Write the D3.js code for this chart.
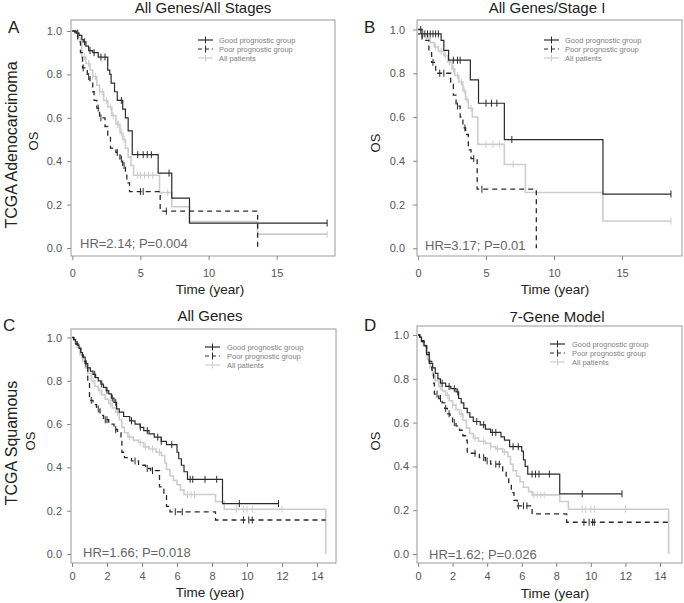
<!DOCTYPE html>
<html lang="en">
  <head>
    <meta charset="UTF-8" />
    <title>KM curves</title>
    <style>
      body { margin: 0; background: #fff; }
      svg text { font-family: Arial, "Liberation Sans", sans-serif; }
    </style>
  </head>
  <body>
    <div id="chart"></div>
    <script src="https://d3js.org/d3.v7.min.js"></script>
    <script>
      // ---- data: [time (year), survival] at each drop ----
      var goodA = [[0.3,0.99],[0.5,0.98],[0.7,0.96],[0.8,0.95],[1.0,0.93],[1.2,0.91],[1.5,0.9],[1.9,0.88],[2.6,0.82],[2.75,0.8],[2.85,0.76],[3.1,0.72],[3.3,0.68],[3.7,0.64],[3.9,0.6],[4.1,0.54],[4.4,0.43],[6.3,0.345],[7.3,0.23],[8.6,0.115],[18.7,0.115]];
      var poorA = [[0.2,0.98],[0.4,0.95],[0.6,0.9],[0.75,0.83],[1.1,0.79],[1.3,0.76],[1.5,0.72],[1.6,0.68],[1.8,0.645],[2.0,0.6],[2.4,0.56],[2.6,0.52],[2.8,0.46],[3.2,0.44],[3.5,0.41],[3.7,0.38],[3.9,0.34],[4.0,0.3],[4.2,0.26],[6.45,0.17],[13.6,0]];
      var allA = [[0.2,0.99],[0.4,0.97],[0.6,0.95],[0.7,0.88],[1.0,0.85],[1.3,0.82],[1.5,0.79],[1.8,0.75],[2.0,0.72],[2.3,0.68],[2.6,0.65],[2.9,0.61],[3.2,0.57],[3.5,0.53],[3.7,0.5],[3.9,0.46],[4.1,0.42],[4.3,0.38],[4.5,0.335],[6.4,0.255],[7.3,0.19],[8.6,0.122],[13.6,0.064],[18.7,0.064]];
      var censGoodA = [0.4,0.9,1.3,1.6,2.1,2.4,3.6,4.8,5.2,5.5,5.8,7.1,18.7];
      var censPoorA = [0.8,1.2,1.9,2.1,3.3,3.6,3.8,5.0,5.2,6.9];
      var censAllA = [0.9,1.2,1.5,1.7,2.0,2.2,2.5,2.8,3.0,3.3,3.4,3.6,3.8,4.8,5.0,5.3,5.6,5.9,7.0,18.7];

      var goodB = [[1.7,0.95],[1.9,0.905],[2.25,0.86],[3.85,0.77],[4.45,0.663],[6.35,0.497],[13.6,0.248],[18.6,0.248]];
      var poorB = [[0.3,0.95],[0.8,0.9],[1.0,0.85],[1.3,0.8],[2.4,0.75],[2.6,0.7],[2.8,0.65],[3.1,0.6],[3.3,0.55],[3.5,0.52],[3.7,0.45],[3.9,0.41],[4.35,0.27],[8.7,0]];
      var allB = [[0.3,0.98],[0.6,0.96],[0.9,0.94],[1.2,0.92],[1.5,0.9],[1.9,0.88],[2.2,0.85],[2.5,0.82],[2.7,0.79],[3.0,0.76],[3.3,0.72],[3.5,0.68],[3.7,0.64],[4.0,0.6],[4.4,0.475],[6.35,0.383],[7.9,0.255],[13.6,0.125],[18.6,0.125]];
      var goodBStart = 0.98;
      var censGoodB = [0.3,0.5,0.7,0.9,1.1,1.3,1.5,2.6,2.9,3.1,5.0,5.4,5.8,6.9,18.6];
      var censPoorB = [0.2,1.1,1.6,1.9,2.9,3.45,4.1,4.7];
      var censAllB = [0.4,0.8,1.3,1.7,2.0,2.3,2.6,2.9,3.2,3.4,3.6,3.9,5.0,5.5,6.0,7.0,18.6];

      var goodC = [[0.1,0.99],[0.2,0.98],[0.3,0.965],[0.4,0.95],[0.5,0.93],[0.6,0.91],[0.75,0.88],[0.9,0.86],[1.05,0.845],[1.2,0.83],[1.35,0.815],[1.5,0.8],[1.65,0.785],[1.8,0.77],[1.95,0.755],[2.1,0.74],[2.25,0.72],[2.4,0.7],[2.55,0.67],[2.7,0.655],[2.95,0.635],[3.3,0.615],[3.6,0.6],[3.9,0.585],[4.1,0.57],[4.4,0.555],[4.7,0.54],[5.1,0.52],[5.4,0.505],[6.0,0.47],[6.1,0.44],[6.25,0.41],[6.4,0.38],[6.6,0.345],[8.6,0.233],[11.8,0.233]];
      var poorC = [[0.1,0.99],[0.2,0.97],[0.35,0.95],[0.5,0.92],[0.65,0.89],[0.8,0.86],[0.9,0.8],[1.0,0.71],[1.2,0.69],[1.4,0.67],[1.6,0.64],[1.8,0.62],[2.1,0.6],[2.4,0.575],[2.6,0.56],[2.8,0.53],[2.85,0.47],[3.0,0.445],[3.4,0.43],[3.8,0.41],[4.2,0.395],[4.5,0.385],[5.0,0.31],[5.25,0.27],[5.4,0.22],[5.6,0.195],[8.2,0.157],[14.5,0.157]];
      var allC = [[0.1,0.99],[0.2,0.975],[0.3,0.955],[0.45,0.92],[0.6,0.89],[0.75,0.86],[0.9,0.835],[1.1,0.8],[1.3,0.775],[1.5,0.755],[1.7,0.735],[1.9,0.715],[2.1,0.695],[2.3,0.675],[2.5,0.655],[2.7,0.62],[2.85,0.585],[3.0,0.56],[3.2,0.54],[3.5,0.525],[3.8,0.515],[4.1,0.495],[4.4,0.485],[4.8,0.47],[5.1,0.455],[5.3,0.42],[5.4,0.39],[5.6,0.36],[5.8,0.34],[6.0,0.32],[6.2,0.295],[6.4,0.275],[8.2,0.242],[8.7,0.207],[14.5,0]];
      var censGoodC = [0.8,1.3,1.7,2.0,2.3,2.5,3.4,3.9,4.3,4.9,5.1,5.7,6.75,6.9,7.6,8.27,9.56,11.8];
      var censPoorC = [1.1,1.5,1.9,2.0,2.5,3.6,4.3,4.6,5.9,6.3,9.8,10.1,10.3];
      var censAllC = [0.9,1.2,1.6,2.2,2.6,3.3,3.9,4.2,4.6,5.0,6.6,6.8,7.0,9.4,9.8,10.0,10.3,12.0];

      var goodD = [[0.1,0.99],[0.2,0.975],[0.35,0.95],[0.5,0.91],[0.65,0.87],[0.85,0.85],[1.0,0.825],[1.15,0.8],[1.3,0.78],[1.6,0.765],[1.9,0.755],[2.2,0.74],[2.35,0.71],[2.5,0.69],[2.65,0.665],[2.85,0.645],[3.0,0.625],[3.2,0.605],[3.6,0.59],[3.9,0.57],[4.2,0.555],[4.8,0.535],[5.0,0.52],[5.3,0.49],[6.0,0.47],[6.1,0.43],[6.2,0.4],[6.35,0.365],[8.2,0.275],[11.8,0.275]];
      var poorD = [[0.1,0.99],[0.2,0.97],[0.35,0.95],[0.5,0.92],[0.65,0.88],[0.8,0.84],[0.9,0.78],[0.95,0.73],[1.2,0.71],[1.4,0.69],[1.55,0.665],[1.7,0.64],[1.85,0.62],[2.0,0.6],[2.2,0.585],[2.4,0.565],[2.6,0.54],[2.75,0.52],[2.85,0.46],[3.55,0.44],[3.9,0.425],[4.2,0.41],[4.9,0.38],[5.1,0.35],[5.25,0.32],[5.4,0.28],[5.55,0.245],[5.75,0.22],[6.6,0.183],[8.6,0.145],[14.5,0.145]];
      var allD = [[0.1,0.99],[0.2,0.975],[0.3,0.955],[0.45,0.92],[0.55,0.89],[0.7,0.85],[0.85,0.815],[1.0,0.79],[1.2,0.765],[1.4,0.745],[1.6,0.725],[1.8,0.7],[2.0,0.68],[2.2,0.66],[2.4,0.64],[2.6,0.61],[2.8,0.575],[3.0,0.55],[3.2,0.53],[3.5,0.515],[3.9,0.505],[4.2,0.49],[4.5,0.48],[4.9,0.465],[5.2,0.445],[5.35,0.41],[5.5,0.38],[5.7,0.355],[5.9,0.33],[6.1,0.305],[6.4,0.285],[6.6,0.27],[8.2,0.24],[8.7,0.204],[14.5,0]];
      var censGoodD = [1.4,1.8,2.1,2.3,3.4,3.8,4.3,4.5,5.5,5.8,6.6,6.8,7.0,7.6,9.5,11.8];
      var censPoorD = [1.1,1.3,1.6,1.8,2.1,3.3,3.8,4.0,4.5,4.7,5.8,6.1,6.3,9.6,9.9,10.1,10.2];
      var censAllD = [0.9,1.3,1.7,2.0,2.5,3.3,3.8,4.2,4.6,5.0,6.7,6.9,7.1,7.3,9.5,9.7,10.0,10.2,12.0];

      var xTicksLong = [0, 5, 10, 15];
      var xTicksShort = [0, 2, 4, 6, 8, 10, 12, 14];
      var yTicks = [0, 0.2, 0.4, 0.6, 0.8, 1.0];
      var legendLabels = ["Good prognostic group", "Poor prognostic group", "All patients"];
      var titles = ["All Genes/All Stages", "All Genes/Stage I", "All Genes", "7-Gene Model"];
      var letters = ["A", "B", "C", "D"];
      var hrLabels = ["HR=2.14; P=0.004", "HR=3.17; P=0.01", "HR=1.66; P=0.018", "HR=1.62; P=0.026"];
      var rowLabels = ["TCGA Adenocarcinoma", "TCGA Squamous"];

      var svg = d3.select("#chart").append("svg")
        .attr("width", 684).attr("height", 603);

      // layout of each panel (pixel boxes)
      var panels = [
        { box: [71, 20, 335, 256], x0: 72.3, xMax: 15, xEnd: 276.7, y1: 31, y0: 248, ticks: xTicksLong,
          good: goodA, poor: poorA, all: allA, cg: censGoodA, cp: censPoorA, ca: censAllA, goodStart: 1,
          title: [203, 13], letter: [8, 33], os: [38, 141], row: [17, 145, 0], legend: [198, 219, 40],
          hr: [80, 248], ytx: 62, xtY: 277, timeX: 210, timeY: 294 },
        { box: [417, 20, 682, 256], x0: 418, xMax: 15, xEnd: 622, y1: 29.5, y0: 248.3, ticks: xTicksLong,
          good: goodB, poor: poorB, all: allB, cg: censGoodB, cp: censPoorB, ca: censAllB, goodStart: goodBStart,
          title: [547, 13], letter: [364, 33], os: [380, 143], row: null, legend: [544, 565, 40],
          hr: [425, 250], ytx: 405, xtY: 277, timeX: 555, timeY: 294 },
        { box: [71, 329, 336, 563], x0: 72, xMax: 14, xEnd: 317, y1: 337.5, y0: 554, ticks: xTicksShort,
          good: goodC, poor: poorC, all: allC, cg: censGoodC, cp: censPoorC, ca: censAllC, goodStart: 1,
          title: [210, 321], letter: [3, 331], os: [35, 441], row: [17, 443, 1], legend: [205, 227, 347],
          hr: [83, 557], ytx: 62, xtY: 580, timeX: 210, timeY: 597 },
        { box: [417, 326, 682, 563], x0: 418, xMax: 14, xEnd: 660, y1: 335, y0: 554, ticks: xTicksShort,
          good: goodD, poor: poorD, all: allD, cg: censGoodD, cp: censPoorD, ca: censAllD, goodStart: 1,
          title: [557, 322], letter: [364, 331], os: [380, 441], row: null, legend: [550, 572, 344],
          hr: [429, 559], ytx: 409, xtY: 580, timeX: 555, timeY: 598 }
      ];

      var darkCol = "#2a2a2a", lightCol = "#cdcdcd";

      panels.forEach(function (p, i) {
        var x = d3.scaleLinear().domain([0, p.xMax]).range([p.x0, p.xEnd]);
        var y = d3.scaleLinear().domain([0, 1]).range([p.y0, p.y1]);
        var g = svg.append("g");

        // box
        g.append("rect")
          .attr("x", p.box[0]).attr("y", p.box[1])
          .attr("width", p.box[2] - p.box[0]).attr("height", p.box[3] - p.box[1])
          .attr("fill", "none").attr("stroke", "#9a9a9a").attr("stroke-width", 1);

        // axes
        var xa = g.append("g").attr("transform", "translate(0," + p.box[3] + ")")
          .call(d3.axisBottom(x).tickValues(p.ticks).tickSize(4).tickPadding(4).tickFormat(d3.format("d")));
        xa.select(".domain").remove();
        xa.selectAll("line").attr("stroke", "#888");
        xa.selectAll("text").attr("font-size", 11).attr("fill", "#555").attr("dy", null)
          .attr("y", p.xtY - p.box[3]);

        var ya = g.append("g").attr("transform", "translate(" + p.box[0] + ",0)")
          .call(d3.axisLeft(y).tickValues(yTicks).tickSize(4).tickFormat(d3.format(".1f")));
        ya.select(".domain").remove();
        ya.selectAll("line").attr("stroke", "#888");
        ya.selectAll("text").attr("font-size", 11).attr("fill", "#555")
          .attr("x", p.ytx - p.box[0]);

        // curves
        function pts(steps, start) {
          return [[0, start]].concat(steps);
        }
        function survAt(steps, start, t) {
          var s = start;
          steps.forEach(function (d) { if (d[0] <= t) s = d[1]; });
          return s;
        }
        var line = d3.line().curve(d3.curveStepAfter)
          .x(function (d) { return x(d[0]); })
          .y(function (d) { return y(d[1]); });

        var series = [
          { steps: p.all, cens: p.ca, start: 1, col: lightCol, w: 1.6, dash: null },
          { steps: p.poor, cens: p.cp, start: 1, col: darkCol, w: 1.3, dash: "5,4" },
          { steps: p.good, cens: p.cg, start: p.goodStart, col: darkCol, w: 1.2, dash: null }
        ];
        series.forEach(function (s) {
          g.append("path").datum(pts(s.steps, s.start))
            .attr("d", line).attr("fill", "none")
            .attr("stroke", s.col).attr("stroke-width", s.w)
            .attr("stroke-dasharray", s.dash);
          g.selectAll(null).data(s.cens).enter().append("line")
            .attr("x1", function (t) { return x(t); })
            .attr("x2", function (t) { return x(t); })
            .attr("y1", function (t) { return y(survAt(s.steps, s.start, t)) - 3.5; })
            .attr("y2", function (t) { return y(survAt(s.steps, s.start, t)) + 3.5; })
            .attr("stroke", s.col).attr("stroke-width", 1);
        });

        // legend
        var lg = g.append("g");
        var legCols = [darkCol, darkCol, lightCol];
        var legDash = [null, "4,3", null];
        legendLabels.forEach(function (lab, k) {
          var ly = p.legend[2] + k * 9;
          lg.append("line").attr("x1", p.legend[0]).attr("x2", p.legend[0] + 15)
            .attr("y1", ly).attr("y2", ly)
            .attr("stroke", legCols[k]).attr("stroke-width", 1.2)
            .attr("stroke-dasharray", legDash[k]);
          lg.append("line").attr("x1", p.legend[0] + 7.5).attr("x2", p.legend[0] + 7.5)
            .attr("y1", ly - 3.5).attr("y2", ly + 3.5)
            .attr("stroke", legCols[k]).attr("stroke-width", 1);
          lg.append("text").attr("x", p.legend[1]).attr("y", ly + 2.7)
            .attr("font-size", 7.5).attr("fill", "#808080").text(lab);
        });

        // texts
        g.append("text").attr("x", p.title[0]).attr("y", p.title[1])
          .attr("text-anchor", "middle").attr("font-size", 15).attr("fill", "#222").text(titles[i]);
        g.append("text").attr("x", p.letter[0]).attr("y", p.letter[1])
          .attr("font-size", 17).attr("fill", "#222").text(letters[i]);
        g.append("text").attr("transform", "translate(" + p.os[0] + "," + p.os[1] + ") rotate(-90)")
          .attr("text-anchor", "middle").attr("font-size", 13).attr("fill", "#222").text("OS");
        if (p.row) {
          g.append("text").attr("transform", "translate(" + p.row[0] + "," + p.row[1] + ") rotate(-90)")
            .attr("text-anchor", "middle").attr("font-size", 16).attr("fill", "#222").text(rowLabels[p.row[2]]);
        }
        g.append("text").attr("x", p.hr[0]).attr("y", p.hr[1])
          .attr("font-size", 13).attr("fill", "#666").text(hrLabels[i]);
        g.append("text").attr("x", p.timeX).attr("y", p.timeY)
          .attr("text-anchor", "middle").attr("font-size", 13.5).attr("fill", "#222").text("Time (year)");
      });
    </script>
  </body>
</html>
